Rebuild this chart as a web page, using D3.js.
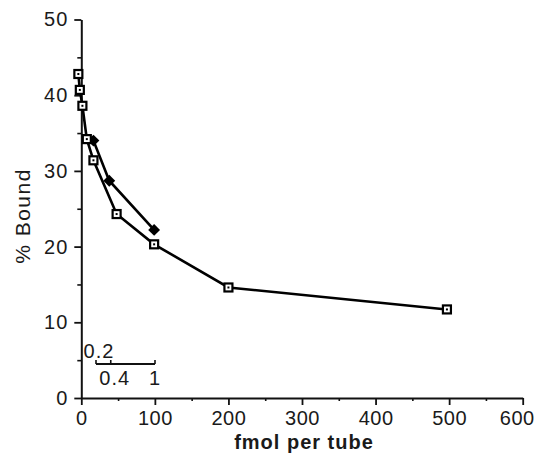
<!DOCTYPE html>
<html>
<head>
<meta charset="utf-8">
<script src="https://cdn.jsdelivr.net/npm/d3@7"></script>
<style>
  body { margin: 0; background: #fff; }
  svg text { font-family: "Liberation Sans", Arial, Helvetica, sans-serif; fill: #1a1a1a; }
</style>
</head>
<body>
<svg width="537" height="455"></svg>
<script>
// Open squares series
const squareX = [-4, -2, 1.5, 7.5, 16.5, 48, 99, 200, 497];
const squareY = [42.8, 40.7, 38.6, 34.2, 31.4, 24.3, 20.3, 14.6, 11.7];
// Filled diamonds series (starts at the shared square point)
const diamondX = [7.5, 16.5, 38, 99];
const diamondY = [34.2, 34.0, 28.7, 22.2];

const xTicks = [0, 100, 200, 300, 400, 500, 600];
const xMinor = [50, 150, 250, 350, 450, 550];
const yTicks = [0, 10, 20, 30, 40, 50];
const yMinor = [5, 15, 25, 35, 45];
// small inset scale bar
const insetTicks = [0.2, 0.4, 1];

const svg = d3.select("svg");

// scales
const x = d3.scaleLinear().domain([0, 600]).range([81.3, 522.7]);
const y = d3.scaleLinear().domain([0, 50]).range([398, 19.5]);

// minor ticks first
svg.append("g")
   .attr("transform", `translate(${x(0)},0)`)
   .call(d3.axisLeft(y).tickValues(yMinor).tickSize(4).tickFormat(""))
   .call(g => g.select(".domain").remove())
   .selectAll("line").attr("stroke", "#111").attr("stroke-width", 1.6);

svg.append("g")
   .attr("transform", `translate(0,${y(0)})`)
   .call(d3.axisBottom(x).tickValues(xMinor).tickSize(3).tickFormat(""))
   .call(g => g.select(".domain").remove())
   .selectAll("line").attr("stroke", "#111").attr("stroke-width", 1.6);

// y axis
const yAxis = svg.append("g")
   .attr("transform", `translate(${x(0)},0)`)
   .call(d3.axisLeft(y).tickValues(yTicks).tickSize(7).tickSizeOuter(0).tickPadding(6));
yAxis.select(".domain").attr("stroke", "#111").attr("stroke-width", 2);
yAxis.selectAll("line").attr("stroke", "#111").attr("stroke-width", 1.8);
yAxis.selectAll("text").style("font-size", "20px").style("letter-spacing", "1px").attr("fill", "#1a1a1a");

// x axis
const xAxis = svg.append("g")
   .attr("transform", `translate(0,${y(0)})`)
   .call(d3.axisBottom(x).tickValues(xTicks).tickSize(7).tickSizeOuter(0).tickPadding(6));
xAxis.select(".domain").attr("stroke", "#111").attr("stroke-width", 2);
xAxis.selectAll("line").attr("stroke", "#111").attr("stroke-width", 1.8);
xAxis.selectAll("text").style("font-size", "20px").style("letter-spacing", "0.5px").attr("fill", "#1a1a1a");
// last label sits a bit left so it stays inside the frame
xAxis.selectAll(".tick").filter(d => d == 600).select("text").attr("dx", -6);

// axis titles
svg.append("text")
   .attr("x", 304).attr("y", 449)
   .attr("text-anchor", "middle")
   .style("font-size", "20px").style("font-weight", "bold")
   .style("letter-spacing", "1px")
   .text("fmol per tube");

svg.append("text")
   .attr("transform", `translate(30,216) rotate(-90)`)
   .attr("text-anchor", "middle")
   .style("font-size", "21px")
   .style("letter-spacing", "1.5px")
   .text("% Bound");

// lines
const line = d3.line().x(d => x(d[0])).y(d => y(d[1]));
const squares = squareX.map((v, i) => [v, squareY[i]]);
const diamonds = diamondX.map((v, i) => [v, diamondY[i]]);

svg.append("path").datum(diamonds)
   .attr("d", line).attr("fill", "none")
   .attr("stroke", "#000").attr("stroke-width", 2.6);
svg.append("path").datum(squares)
   .attr("d", line).attr("fill", "none")
   .attr("stroke", "#000").attr("stroke-width", 2.6);

// diamond markers (skip the shared first point)
svg.append("g").selectAll("path")
   .data(diamonds.slice(1))
   .join("path")
   .attr("d", d3.symbol(d3.symbolSquare, 70)())
   .attr("transform", d => `translate(${x(d[0])},${y(d[1])}) rotate(45)`)
   .attr("fill", "#000");

// open square markers with a dot inside
const sq = svg.append("g").selectAll("g")
   .data(squares)
   .join("g")
   .attr("transform", d => `translate(${x(d[0])},${y(d[1])})`);
sq.append("rect")
  .attr("x", -4).attr("y", -4).attr("width", 8).attr("height", 8)
  .attr("fill", "#fff").attr("stroke", "#000").attr("stroke-width", 2.2);
sq.append("rect")
  .attr("x", -1).attr("y", -1).attr("width", 2).attr("height", 2)
  .attr("fill", "#000");

// inset scale bar
const inset = d3.scaleLinear().domain([0.2, 1]).range([96, 155]);
const insetY = 364;
const ig = svg.append("g");
ig.append("line")
  .attr("x1", inset(0.2)).attr("x2", inset(1))
  .attr("y1", insetY).attr("y2", insetY)
  .attr("stroke", "#111").attr("stroke-width", 2);
ig.selectAll("line.t")
  .data(insetTicks)
  .join("line").attr("class", "t")
  .attr("x1", d => inset(d)).attr("x2", d => inset(d))
  .attr("y1", insetY).attr("y2", insetY - 4)
  .attr("stroke", "#111").attr("stroke-width", 1.6);
ig.selectAll("text")
  .data(insetTicks)
  .join("text")
  .attr("x", (d, i) => i == 0 ? inset(d) + 3 : inset(d) + (i == 1 ? 4 : 0))
  .attr("y", (d, i) => i == 0 ? insetY - 6 : insetY + 21)
  .attr("text-anchor", "middle")
  .style("font-size", "20px")
  .style("letter-spacing", "1px")
  .text(d => d);
</script>
</body>
</html>
